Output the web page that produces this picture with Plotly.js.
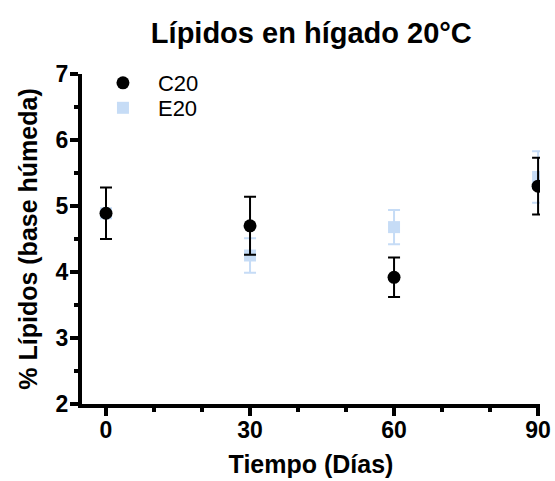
<!DOCTYPE html>
<html>
<head>
<meta charset="utf-8">
<script src="https://cdn.plot.ly/plotly-3.0.1.min.js"></script>
<style>html,body{margin:0;padding:0;background:#fff;}#chart{width:555px;height:481px;}</style>
</head>
<body>
<div id="chart"></div>
<script>
const days = [0, 30, 60, 90];
const c20Mean = [4.89, 4.70, 3.92, 5.30];
const c20Err = [0.39, 0.44, 0.30, 0.43];
const e20Mean = [4.89, 4.25, 4.68, 5.44];
const e20Err = [0.05, 0.26, 0.26, 0.39];
const xTickVals = [0, 30, 60, 90];
const yTickVals = [2, 3, 4, 5, 6, 7];

const FONT = "Arial, 'Liberation Sans', sans-serif";
const blue = "#c6dcf6";

const traces = [
  {
    x: days, y: e20Mean, name: "E20", type: "scatter", mode: "markers", legend: "legend2",
    marker: {symbol: "square", size: 12, color: blue},
    error_y: {type: "data", array: e20Err, visible: true, color: blue, thickness: 2, width: 6}
  },
  {
    x: days, y: c20Mean, name: "C20", type: "scatter", mode: "markers", legend: "legend",
    marker: {symbol: "circle", size: 13, color: "#000"},
    error_y: {type: "data", array: c20Err, visible: true, color: "#000", thickness: 2, width: 6}
  }
];

const legBase = {xanchor: "left", yanchor: "middle", font: {size: 22, family: FONT},
                 bgcolor: "rgba(0,0,0,0)", itemwidth: 60, borderwidth: 0};

const layout = {
  width: 555, height: 481,
  margin: {l: 82, r: 15, t: 74, b: 77},
  paper_bgcolor: "#fff", plot_bgcolor: "#fff",
  font: {family: FONT, color: "#000"},
  title: {text: "<b>Lípidos en hígado 20°C</b>", font: {size: 29, family: FONT}, x: 0.561, xanchor: "center", y: 0.932, yanchor: "middle"},
  showlegend: true,
  legend: Object.assign({}, legBase, {x: 0.013, y: (404 - 83) / 330}),
  legend2: Object.assign({}, legBase, {x: 0.013, y: (404 - 108) / 330}),
  xaxis: {
    range: [-5, 90.4], tickvals: xTickVals, ticktext: xTickVals.map(v => "<b>" + v + "</b>"),
    showgrid: false, zeroline: false, showline: true, linecolor: "#000", linewidth: 4,
    ticks: "outside", ticklen: 8, tickwidth: 3.5, tickcolor: "#000",
    minor: {dtick: 10, tick0: 0, ticks: "outside", ticklen: 4, tickwidth: 3.5, tickcolor: "#000", showgrid: false},
    tickfont: {size: 23, family: FONT}, ticklabelstandoff: -6,
    title: {text: "<b>Tiempo (Días)</b>", font: {size: 25, family: FONT}, standoff: 15}
  },
  yaxis: {
    range: [2, 7], tickvals: yTickVals, ticktext: yTickVals.map(v => "<b>" + v + "</b>"),
    showgrid: false, zeroline: false, showline: true, linecolor: "#000", linewidth: 4,
    ticks: "outside", ticklen: 8, tickwidth: 3.5, tickcolor: "#000",
    minor: {dtick: 0.5, tick0: 2, ticks: "outside", ticklen: 4, tickwidth: 3.5, tickcolor: "#000", showgrid: false},
    tickfont: {size: 23, family: FONT}, ticklabelstandoff: -3,
    title: {text: "<b>% Lípidos (base húmeda)</b>", font: {size: 25, family: FONT}, standoff: 12}
  }
};

Plotly.newPlot("chart", traces, layout, {displayModeBar: false, staticPlot: true});
</script>
</body>
</html>
